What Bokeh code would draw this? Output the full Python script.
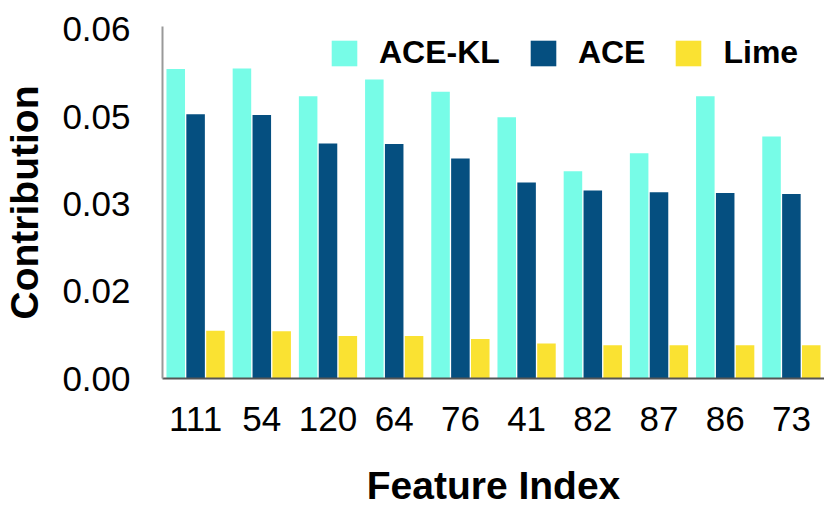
from bokeh.plotting import figure
from bokeh.models import ColumnDataSource, FactorRange, Range1d, FixedTicker
from bokeh.transform import dodge
from bokeh.embed import file_html
from bokeh.resources import INLINE

features = ["111", "54", "120", "64", "76", "41", "82", "87", "86", "73"]
ace_kl = [0.0532, 0.0533, 0.0485, 0.0514, 0.0493, 0.0449, 0.0356, 0.0387, 0.0485, 0.0416]
ace = [0.0454, 0.0453, 0.0404, 0.0403, 0.0378, 0.0337, 0.0323, 0.0320, 0.0319, 0.0317]
lime = [0.0082, 0.0081, 0.0073, 0.0073, 0.0068, 0.0060, 0.0057, 0.0057, 0.0057, 0.0057]
y_ticks = [0.0, 0.015, 0.03, 0.045, 0.06]
y_tick_labels = ["0.00", "0.02", "0.03", "0.05", "0.06"]

src = ColumnDataSource(dict(feature=features, ace_kl=ace_kl, ace=ace, lime=lime))

p = figure(width=824, height=512, x_range=FactorRange(*features),
           y_range=Range1d(0, 0.0605), output_backend="svg",
           toolbar_location=None, min_border_left=161, min_border_right=0,
           min_border_top=26, min_border_bottom=134)

w = 0.28
p.vbar(x=dodge("feature", -0.3, range=p.x_range), top="ace_kl", width=w, source=src,
       color="#77FCE7", line_color=None, legend_label="ACE-KL")
p.vbar(x=dodge("feature", 0.0, range=p.x_range), top="ace", width=w, source=src,
       color="#054F80", line_color=None, legend_label="ACE")
p.vbar(x=dodge("feature", 0.3, range=p.x_range), top="lime", width=w, source=src,
       color="#FAE232", line_color=None, legend_label="Lime")

p.outline_line_color = None
p.xgrid.grid_line_color = None
p.ygrid.grid_line_color = None

p.yaxis.ticker = FixedTicker(ticks=y_ticks)
p.yaxis.major_label_overrides = {t: l for t, l in zip(y_ticks, y_tick_labels)}

for ax in (p.xaxis, p.yaxis):
    ax.major_tick_line_color = None
    ax.minor_tick_line_color = None
    ax.major_label_text_font = "Liberation Sans"
    ax.major_label_text_font_size = "35px"
    ax.major_label_text_color = "black"
    ax.major_label_text_line_height = 1.0
    ax.axis_label_text_font = "Liberation Sans"
    ax.axis_label_text_font_style = "bold"
    ax.axis_label_text_font_size = "39px"
    ax.axis_label_text_color = "black"
    ax.axis_label_text_line_height = 1.0
    ax.axis_line_width = 2

p.xaxis.axis_line_color = "#555555"
p.yaxis.axis_line_color = "#999999"
p.xaxis.axis_label = "Feature Index"
p.yaxis.axis_label = "Contribution"
p.xaxis.major_label_standoff = 22
p.xaxis.axis_label_standoff = 30
p.yaxis.major_label_standoff = 26
p.yaxis.axis_label_standoff = 13

lg = p.legend[0]
lg.orientation = "horizontal"
lg.location = (166, 307)
lg.margin = 0
lg.padding = 0
lg.glyph_width = 32
lg.glyph_height = 32
lg.label_standoff = 19
lg.spacing = 27
lg.label_text_font = "Liberation Sans"
lg.label_text_font_style = "bold"
lg.label_text_font_size = "32px"
lg.label_text_color = "black"
lg.border_line_color = None
lg.background_fill_alpha = 0

open("out.html", "w").write(file_html(p, INLINE))
